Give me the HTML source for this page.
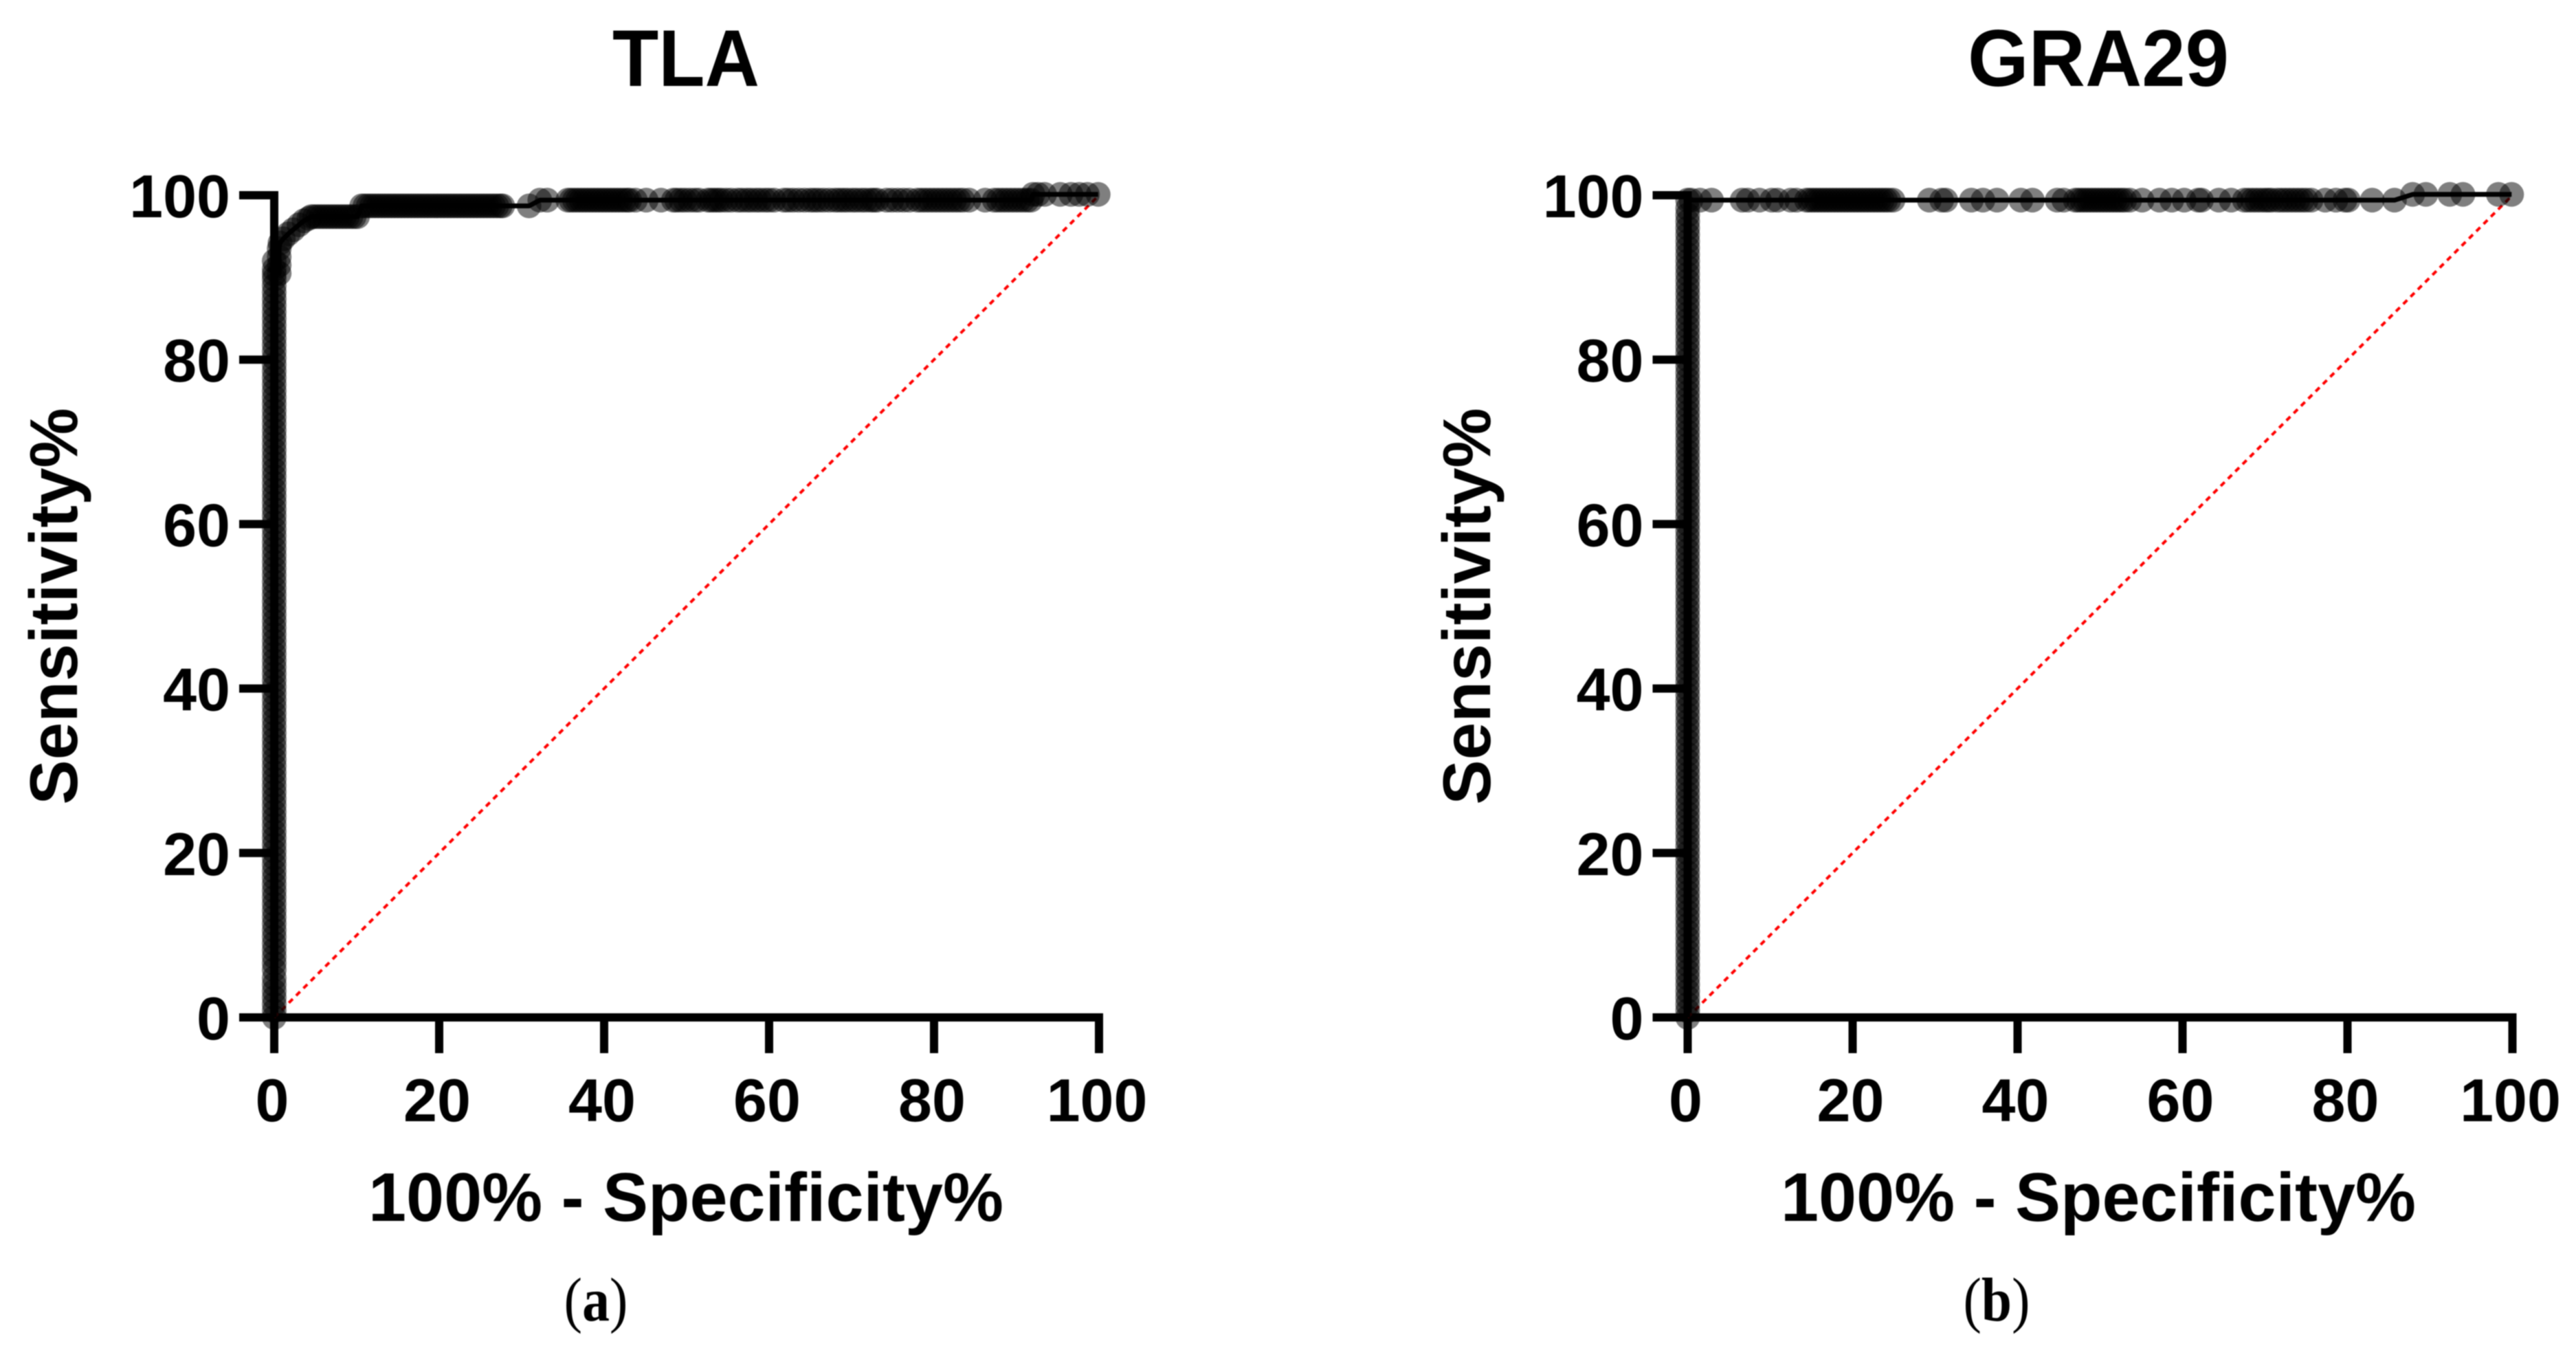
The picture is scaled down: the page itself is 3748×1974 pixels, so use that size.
<!DOCTYPE html>
<html lang="en">
<head>
<meta charset="utf-8">
<title>ROC curves: TLA and GRA29</title>
<style>
  html, body { margin: 0; padding: 0; background: #fff; }
  body { width: 3748px; height: 1974px; overflow: hidden; }
  svg { display: block; filter: blur(0.7px); }
  text { font-family: "Liberation Sans", Arial, sans-serif; font-weight: 700; fill: #000; }
  .caption { font-family: "Liberation Serif", "Times New Roman", serif; font-weight: 400; font-size: 90px; }
  .caption-letter { font-weight: 700; }
</style>
</head>
<body>
<svg id="figure" xmlns="http://www.w3.org/2000/svg" width="3748" height="1974" viewBox="0 0 3748 1974">
  <rect width="3748" height="1974" fill="#fff"/>

  <g id="panel-a"></g>
  <g id="panel-b"></g>

  <text x="998" y="125" font-size="117" text-anchor="middle" textLength="214" lengthAdjust="spacingAndGlyphs">TLA</text>
  <text x="998" y="1776" font-size="100" text-anchor="middle" textLength="924" lengthAdjust="spacingAndGlyphs">100% - Specificity%</text>
  <text x="0" y="0" font-size="98" text-anchor="middle" transform="translate(112 882) rotate(-90)">Sensitivity%</text>
  <text class="caption" x="867" y="1921" text-anchor="middle" textLength="93" lengthAdjust="spacingAndGlyphs">(<tspan class="caption-letter">a</tspan>)</text>

  <text x="3053" y="125" font-size="117" text-anchor="middle" textLength="380" lengthAdjust="spacingAndGlyphs">GRA29</text>
  <text x="3053" y="1776" font-size="100" text-anchor="middle" textLength="924" lengthAdjust="spacingAndGlyphs">100% - Specificity%</text>
  <text x="0" y="0" font-size="98" text-anchor="middle" transform="translate(2168 882) rotate(-90)">Sensitivity%</text>
  <text class="caption" x="2905" y="1921" text-anchor="middle" textLength="97" lengthAdjust="spacingAndGlyphs">(<tspan class="caption-letter">b</tspan>)</text>
</svg>

<script>
// Axis tick values
var xTickValues = [0, 20, 40, 60, 80, 100];
var yTickValues = [0, 20, 40, 60, 80, 100];

// Chance line endpoints (100% - specificity, sensitivity)
var chanceFpr = [0, 100];
var chanceSens = [0, 100];

// TLA: rising part at 100% - specificity = 0
var tlaRiseSens = [
  0, 0.8, 1.6, 2.4, 3.2, 4, 4.8, 5.8, 6.6, 7.4,
  8.2, 9, 9.8, 10.6, 11.4, 12.2, 13, 13.8, 14.6, 15.4,
  16.2, 17, 17.8, 18.6, 19.4, 20.2, 21, 21.8, 22.6, 23.4,
  24.2, 25, 25.8, 26.6, 27.4, 28.2, 29, 29.8, 30.6, 31.4,
  32.2, 33, 33.8, 34.6, 35.4, 36.2, 37, 37.8, 38.6, 39.4,
  40.2, 41, 41.8, 42.6, 43.4, 44.2, 45, 45.8, 46.6, 47.4,
  48.2, 49, 49.8, 50.6, 51.4, 52.2, 53, 53.8, 54.6, 55.4,
  56.2, 57, 57.8, 58.6, 59.4, 60.2, 61, 61.8, 62.6, 63.4,
  64.2, 65, 65.8, 66.6, 67.4, 68.2, 69, 69.8, 70.6, 71.4,
  72.2, 73, 73.8, 74.6, 75.4, 76.2, 77, 77.8, 78.6, 79.4,
  80.2, 81, 81.8, 82.6, 83.4, 84.2, 85, 85.8, 86.6, 87.4,
  88.2, 89, 89.8, 90.4
];
// TLA: the knee of the curve
var tlaKneeFpr  = [0, 0, 0.6, 0.6, 0.6, 0.6, 0.7, 1.1, 1.7, 2.3, 3, 3.6, 4.2];
var tlaKneeSens = [91, 92, 90.5, 91.5, 92.5, 93.5, 94.2, 94.7, 95.3, 95.8, 96.4, 96.9, 97.2];
// TLA: plateaus (sensitivity level, then the 100% - specificity values on it)
var tlaPlateauLevels = [97.4, 98.7, 99.4, 100.1];
var tlaPlateauFpr = [
  [4.5, 4.9, 5.3, 5.7, 6.1, 6.5, 6.9, 7.3, 7.7, 8.1, 8.5, 8.9, 9.3, 9.7, 10.1],
  [10.6, 11, 11.4, 11.8, 12.2, 12.6, 13, 13.4, 13.8, 14.2, 14.6, 15, 15.4, 15.8, 16.2, 16.6, 17, 17.4, 17.8, 18.2,
   18.6, 19, 19.4, 19.8, 20.2, 20.6, 21, 21.4, 21.8, 22.2, 22.6, 23, 23.4, 23.8, 24.2, 24.6, 25, 25.4, 25.8, 26.2,
   26.6, 27, 27.4, 27.7, 30.9],
  [32.2, 33.1, 35.6, 36, 36.4, 36.8, 37.2, 37.6, 38, 38.4, 38.8, 39.2, 39.6, 40, 40.4, 40.8, 41.2, 41.6, 42, 42.4,
   42.8, 43.1, 43.8, 45.1, 46.9, 48.4, 48.8, 49.3, 49.8, 50.4, 51, 51.5, 52.6, 53, 53.4, 53.8, 54.2, 54.8, 55.4, 56.2,
   56.7, 57.3, 57.8, 58.4, 58.9, 59.5, 60, 60.6, 61.8, 62.3, 62.9, 63.6, 64.3, 65, 65.5, 66, 66.6, 67.3, 68, 68.5,
   69, 69.5, 70.1, 70.6, 71.2, 71.7, 72.3, 72.7, 73.1, 74.25, 74.9, 75.6, 76.3, 77, 78, 78.5, 79, 79.5, 80, 80.5,
   81, 81.5, 82, 82.5, 83, 83.5, 84.25, 86.2, 87.3, 87.8, 88.3, 88.8, 89.3, 89.8, 90.3, 90.8, 91.3, 91.75],
  [92, 92.6, 93.4, 95.3, 96.6, 97.6, 98.6, 99.9]
];

// GRA29: rising part at 100% - specificity = 0
var graRiseSens = [
  0, 0.8, 1.6, 2.4, 3.2, 4, 4.8, 5.6, 6.4, 7.2,
  8, 8.8, 9.6, 10.4, 11.2, 12, 12.8, 13.6, 14.4, 15.2,
  16, 16.8, 17.6, 18.4, 19.2, 20, 20.8, 21.6, 22.4, 23.2,
  24, 24.8, 25.6, 26.4, 27.2, 28, 28.8, 29.6, 30.4, 31.2,
  32, 32.8, 33.6, 34.4, 35.2, 36, 36.8, 37.6, 38.4, 39.2,
  40, 40.8, 41.6, 42.4, 43.2, 44, 44.8, 45.6, 46.4, 47.2,
  48, 48.8, 49.6, 50.4, 51.2, 52, 52.8, 53.6, 54.4, 55.2,
  56, 56.8, 57.6, 58.4, 59.2, 60, 60.8, 61.6, 62.4, 63.2,
  64, 64.8, 65.6, 66.4, 67.2, 68, 68.8, 69.6, 70.4, 71.2,
  72, 72.8, 73.6, 74.4, 75.2, 76, 76.8, 77.6, 78.4, 79.2,
  80, 80.8, 81.6, 82.4, 83.2, 84, 84.8, 85.6, 86.4, 87.2,
  88, 88.8, 89.6, 90.4, 91.2, 92, 92.8, 93.6, 94.4, 95.2,
  96, 96.8, 97.6, 98.4
];
// GRA29: plateaus
var graPlateauLevels = [99.4, 100.1];
var graPlateauFpr = [
  [0, 0.4, 1.5, 2.9, 6.6, 7.3, 8.7, 10.2, 10.9, 12.5, 13.2,
   14.4, 14.8, 15.2, 15.6, 16, 16.4, 16.8, 17.2, 17.6, 18, 18.4, 18.8, 19.2, 19.6, 20, 20.4, 20.8, 21.2, 21.6, 22,
   22.4, 22.8, 23.2, 23.6, 24, 24.4, 24.9,
   29.3, 30.8, 31.3, 34.4, 35.8, 37.5, 40.4, 41.8, 44.8, 45.6,
   47, 47.4, 47.8, 48.2, 48.6, 49, 49.4, 49.8, 50.2, 50.6, 51, 51.4, 51.8, 52.2, 52.6, 53, 53.6,
   55.1, 57.2, 58.7, 60.2, 61.9, 62.3, 64.4, 65.9,
   67.5, 68, 68.5, 69, 69.5, 70, 70.4, 70.8, 71.5, 72, 72.5, 73, 73.5, 74, 74.5, 75, 75.6,
   77.3, 78.6, 79.7, 80.1, 83, 85.7],
  [87.9, 89.5, 92.4, 94, 98.3, 99.9]
];

var SVG_NS = 'http://www.w3.org/2000/svg';
var PLOT_TOP = 284, PLOT_BOTTOM = 1480, AXIS_W = 12;

// Axis functions
function scaleX(panelOrigin, v) { return panelOrigin + v * 12; }
function scaleY(v) { return PLOT_BOTTOM + (PLOT_TOP - PLOT_BOTTOM) * v / 100; }

function make(tag, parent, attrs) {
  var el = document.createElementNS(SVG_NS, tag);
  for (var k in attrs) { el.setAttribute(k, attrs[k]); }
  parent.appendChild(el);
  return el;
}

function collectPoints(rise, kneeFpr, kneeSens, levels, plateaus) {
  var pts = [];
  rise.forEach(function (s) { pts.push([0, s]); });
  kneeFpr.forEach(function (f, i) { pts.push([f, kneeSens[i]]); });
  levels.forEach(function (lvl, i) {
    plateaus[i].forEach(function (f) { pts.push([f, lvl]); });
  });
  return pts;
}

function drawPanel(group, origin, points) {
  var right = scaleX(origin, 100);
  var bottom = scaleY(0), top = scaleY(100);
  var half = AXIS_W / 2;

  // X axis line
  var xAxis = make('rect', group, { x: origin - 51, y: bottom - half, width: right + half - origin + 51, height: AXIS_W, fill: '#000' });
  
  

  // Y axis line
  var yAxis = make('rect', group, { x: origin - half, y: top - half, width: AXIS_W, height: bottom + half - top + half, fill: '#000' });
  
  

  xTickValues.forEach(function (v) {
    var tx = scaleX(origin, v);
    var tick = make('rect', group, { x: tx - half, y: bottom, width: AXIS_W, height: 52, fill: '#000' });
    
    
    var label = make('text', group, { x: tx - 3, y: 1631, 'font-size': 88, 'text-anchor': 'middle' });
    
    
    label.textContent = v;
  });

  yTickValues.forEach(function (v) {
    var ty = scaleY(v);
    var tick = make('rect', group, { x: origin - 51, y: ty - half, width: 51, height: AXIS_W, fill: '#000' });
    
    
    var label = make('text', group, { x: origin - 64, y: ty + 32, 'font-size': 88, 'text-anchor': 'end' });
    
    
    label.textContent = v;
  });

  // Chance diagonal
  var chance = make('line', group, {
    x1: scaleX(origin, chanceFpr[0]), y1: scaleY(chanceSens[0]),
    x2: scaleX(origin, chanceFpr[1]), y2: scaleY(chanceSens[1]),
    stroke: '#ff0000', 'stroke-width': 4, 'stroke-dasharray': '8 7'
  });
  
  

  // ROC line
  var d = points.map(function (p) { return scaleX(origin, p[0]) + ',' + scaleY(p[1]); }).join(' ');
  var roc = make('polyline', group, { points: d, fill: 'none', stroke: '#000', 'stroke-width': 7, 'stroke-linejoin': 'round' });
  
  

  // ROC points
  points.forEach(function (p) {
    var c = make('circle', group, { cx: scaleX(origin, p[0]), cy: scaleY(p[1]), r: 18, fill: '#000', 'fill-opacity': 0.5 });
    
    
  });
}

drawPanel(document.getElementById('panel-a'), 399,
  collectPoints(tlaRiseSens, tlaKneeFpr, tlaKneeSens, tlaPlateauLevels, tlaPlateauFpr));
drawPanel(document.getElementById('panel-b'), 2455.5,
  collectPoints(graRiseSens, [], [], graPlateauLevels, graPlateauFpr));
</script>
</body>
</html>
